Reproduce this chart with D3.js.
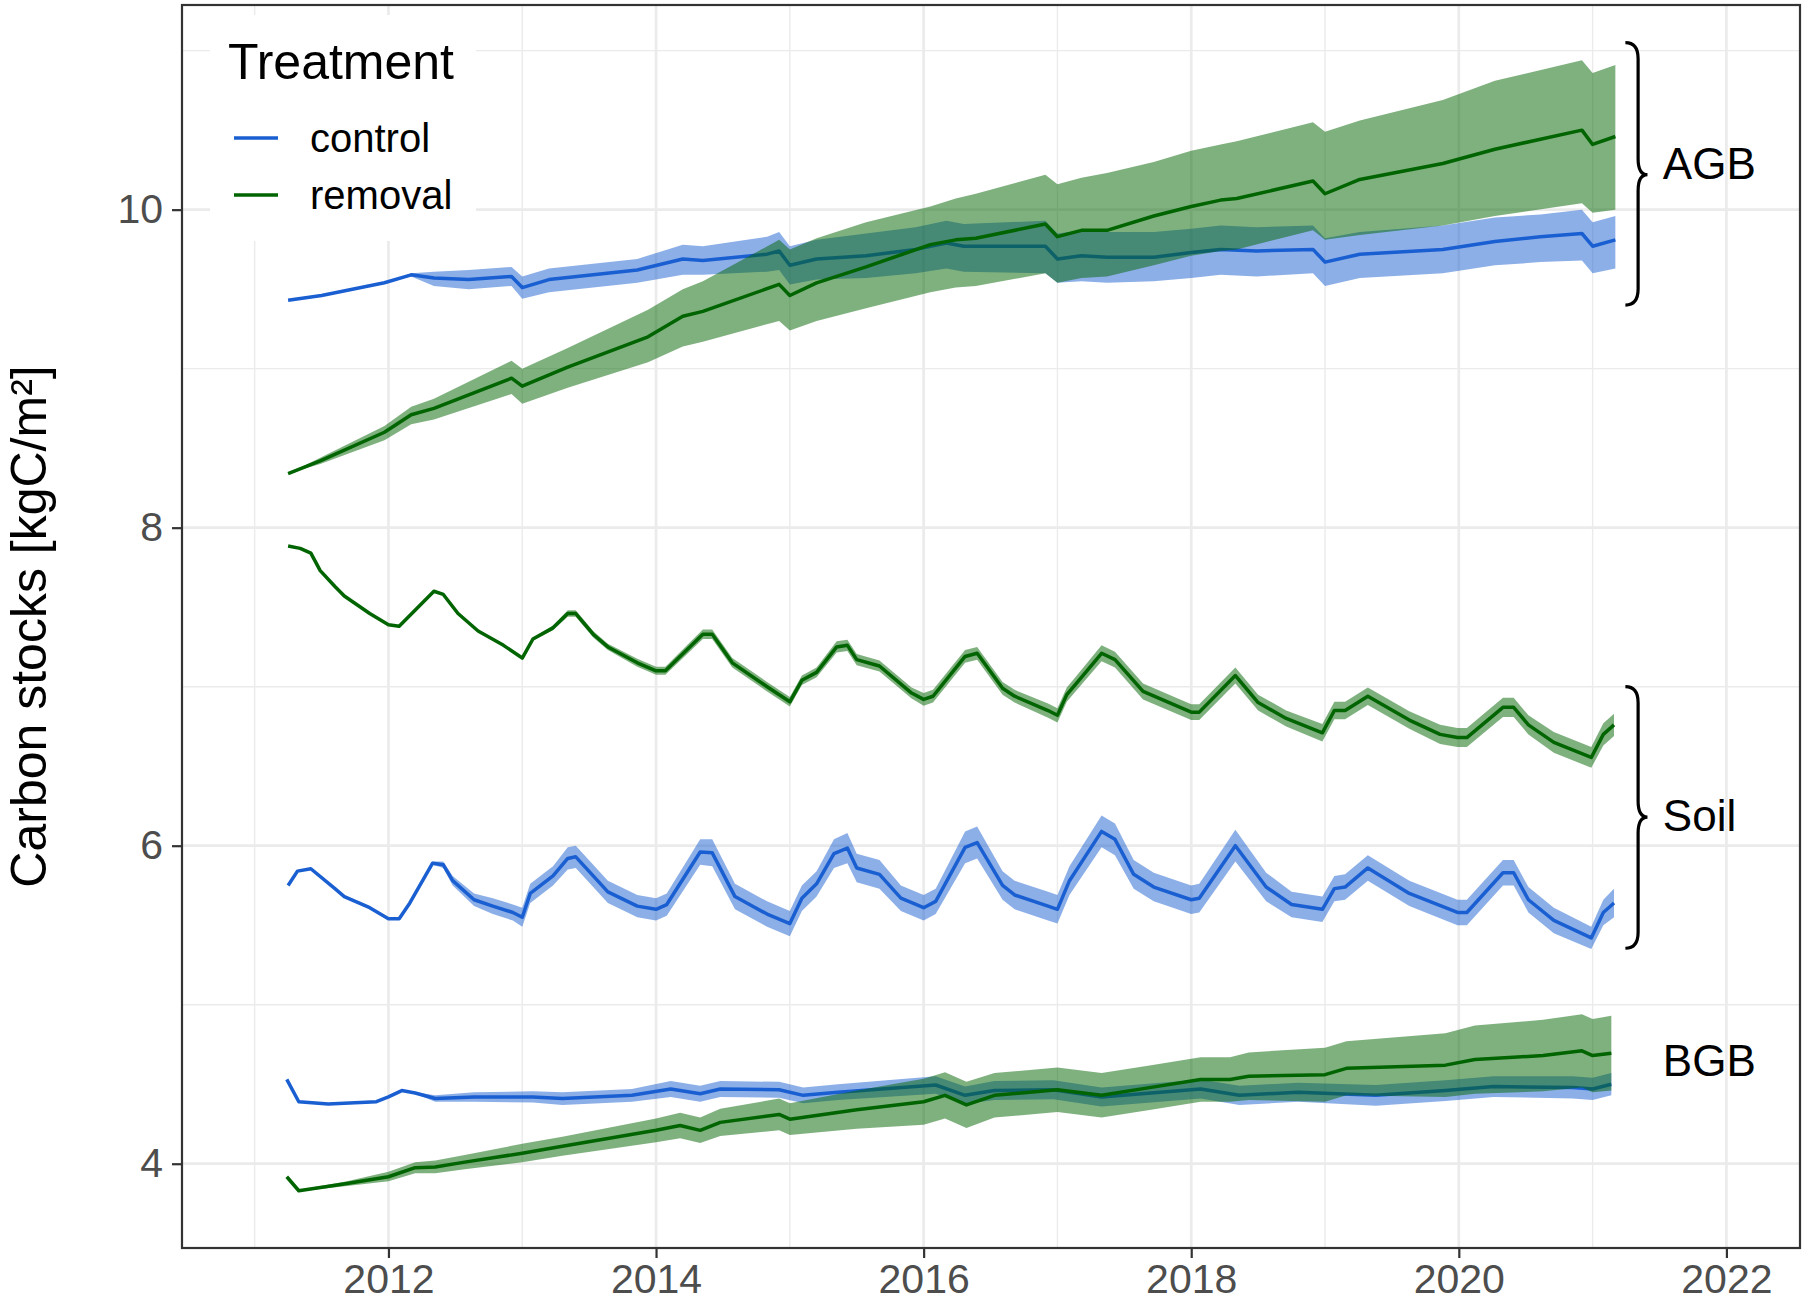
<!DOCTYPE html>
<html>
<head>
<meta charset="utf-8">
<script src="https://cdn.jsdelivr.net/npm/d3@7"></script>
<style>
  html, body { margin: 0; padding: 0; background: #fff; }
  svg { display: block; font-family: "Liberation Sans", Arial, Helvetica, sans-serif; }
</style>
</head>
<body>
<div id="chart"></div>
<script>
// values: [year, mean, lower, upper]
const agbControl = [
  [2011.25, 9.43, 9.43, 9.43], [2011.50, 9.46, 9.46, 9.46], [2011.97, 9.54, 9.54, 9.54],
  [2012.17, 9.59, 9.58, 9.60], [2012.34, 9.57, 9.52, 9.61], [2012.60, 9.56, 9.50, 9.62],
  [2012.92, 9.58, 9.52, 9.64], [2013.00, 9.51, 9.44, 9.58], [2013.20, 9.56, 9.48, 9.63],
  [2013.53, 9.59, 9.51, 9.66], [2013.86, 9.62, 9.54, 9.69], [2014.20, 9.69, 9.59, 9.78],
  [2014.35, 9.68, 9.59, 9.77], [2014.83, 9.72, 9.61, 9.83], [2014.92, 9.74, 9.62, 9.86],
  [2015.00, 9.65, 9.53, 9.77], [2015.20, 9.69, 9.56, 9.81], [2015.57, 9.71, 9.57, 9.85],
  [2015.94, 9.75, 9.60, 9.89], [2016.17, 9.79, 9.63, 9.93], [2016.30, 9.77, 9.61, 9.91],
  [2016.91, 9.77, 9.60, 9.93], [2017.00, 9.69, 9.54, 9.85], [2017.18, 9.71, 9.55, 9.87],
  [2017.37, 9.70, 9.54, 9.86], [2017.72, 9.70, 9.55, 9.86], [2018.00, 9.73, 9.57, 9.88],
  [2018.22, 9.75, 9.59, 9.90], [2018.49, 9.74, 9.58, 9.89], [2018.91, 9.75, 9.60, 9.90],
  [2019.00, 9.67, 9.52, 9.82], [2019.26, 9.72, 9.57, 9.86], [2019.88, 9.75, 9.60, 9.90],
  [2020.27, 9.80, 9.65, 9.95], [2020.61, 9.83, 9.67, 9.97], [2020.92, 9.85, 9.68, 10.00],
  [2021.00, 9.77, 9.60, 9.92], [2021.17, 9.81, 9.63, 9.96]
];

const agbRemoval = [
  [2011.25, 8.34, 8.34, 8.34], [2011.49, 8.42, 8.40, 8.44], [2011.97, 8.60, 8.55, 8.64],
  [2012.17, 8.71, 8.65, 8.76], [2012.34, 8.75, 8.68, 8.81], [2012.92, 8.94, 8.84, 9.05],
  [2013.00, 8.89, 8.78, 9.00], [2013.34, 9.01, 8.88, 9.13], [2013.94, 9.20, 9.04, 9.37],
  [2014.20, 9.33, 9.14, 9.50], [2014.35, 9.36, 9.17, 9.55], [2014.92, 9.53, 9.30, 9.81],
  [2015.00, 9.46, 9.24, 9.75], [2015.20, 9.54, 9.30, 9.82], [2015.57, 9.64, 9.38, 9.92],
  [2016.05, 9.78, 9.48, 10.02], [2016.24, 9.81, 9.51, 10.07], [2016.39, 9.82, 9.52, 10.10],
  [2016.91, 9.91, 9.60, 10.22], [2017.00, 9.83, 9.54, 10.16], [2017.18, 9.87, 9.57, 10.20],
  [2017.37, 9.87, 9.58, 10.23], [2017.72, 9.96, 9.65, 10.30], [2018.00, 10.02, 9.71, 10.37],
  [2018.22, 10.06, 9.74, 10.41], [2018.34, 10.07, 9.75, 10.43], [2018.91, 10.18, 9.87, 10.55],
  [2019.00, 10.10, 9.81, 10.49], [2019.26, 10.19, 9.84, 10.56], [2019.88, 10.29, 9.90, 10.69],
  [2020.27, 10.38, 9.96, 10.81], [2020.92, 10.50, 10.04, 10.94], [2021.00, 10.41, 9.98, 10.86],
  [2021.17, 10.46, 10.00, 10.91]
];

const soilControl = [
  [2011.25, 5.75, 5.75, 5.75], [2011.32, 5.84, 5.84, 5.84], [2011.42, 5.855, 5.855, 5.855],
  [2011.60, 5.73, 5.73, 5.73], [2011.67, 5.68, 5.68, 5.68], [2011.86, 5.61, 5.61, 5.61],
  [2012.00, 5.54, 5.54, 5.54], [2012.08, 5.54, 5.54, 5.54], [2012.16, 5.64, 5.64, 5.64],
  [2012.33, 5.89, 5.88, 5.90], [2012.41, 5.88, 5.86, 5.90], [2012.48, 5.78, 5.75, 5.81],
  [2012.64, 5.66, 5.62, 5.70], [2012.78, 5.62, 5.57, 5.67], [2012.93, 5.58, 5.53, 5.63],
  [2013.00, 5.55, 5.49, 5.61], [2013.06, 5.70, 5.64, 5.76], [2013.23, 5.81, 5.75, 5.87],
  [2013.34, 5.92, 5.85, 5.99], [2013.40, 5.93, 5.86, 6.00], [2013.64, 5.71, 5.64, 5.78],
  [2013.86, 5.62, 5.55, 5.69], [2014.00, 5.60, 5.53, 5.67], [2014.08, 5.63, 5.56, 5.70],
  [2014.33, 5.96, 5.88, 6.04], [2014.42, 5.955, 5.87, 6.04], [2014.59, 5.68, 5.60, 5.76],
  [2014.83, 5.57, 5.49, 5.65], [2015.00, 5.51, 5.43, 5.59], [2015.09, 5.67, 5.59, 5.75],
  [2015.20, 5.76, 5.68, 5.84], [2015.33, 5.95, 5.86, 6.04], [2015.43, 5.985, 5.89, 6.08],
  [2015.50, 5.86, 5.77, 5.95], [2015.67, 5.82, 5.73, 5.91], [2015.83, 5.67, 5.59, 5.75],
  [2016.00, 5.61, 5.53, 5.69], [2016.09, 5.65, 5.57, 5.73], [2016.31, 5.99, 5.89, 6.09],
  [2016.40, 6.02, 5.92, 6.12], [2016.59, 5.75, 5.66, 5.84], [2016.68, 5.69, 5.60, 5.78],
  [2016.93, 5.62, 5.53, 5.71], [2017.00, 5.60, 5.51, 5.69], [2017.09, 5.78, 5.69, 5.87],
  [2017.33, 6.09, 5.99, 6.19], [2017.43, 6.04, 5.94, 6.14], [2017.57, 5.82, 5.73, 5.91],
  [2017.72, 5.74, 5.65, 5.83], [2018.00, 5.66, 5.57, 5.75], [2018.06, 5.67, 5.58, 5.76],
  [2018.33, 6.00, 5.90, 6.10], [2018.56, 5.74, 5.65, 5.83], [2018.75, 5.63, 5.55, 5.71],
  [2018.98, 5.60, 5.52, 5.68], [2019.07, 5.73, 5.65, 5.81], [2019.15, 5.74, 5.66, 5.82],
  [2019.32, 5.86, 5.78, 5.94], [2019.63, 5.70, 5.62, 5.78], [2019.99, 5.58, 5.50, 5.66],
  [2020.06, 5.58, 5.50, 5.66], [2020.33, 5.83, 5.75, 5.91], [2020.41, 5.83, 5.75, 5.91],
  [2020.52, 5.66, 5.58, 5.74], [2020.71, 5.53, 5.45, 5.61], [2020.99, 5.42, 5.35, 5.49],
  [2021.08, 5.58, 5.50, 5.66], [2021.16, 5.64, 5.55, 5.73]
];

const soilRemoval = [
  [2011.25, 7.885, 7.885, 7.885], [2011.34, 7.87, 7.87, 7.87], [2011.42, 7.84, 7.84, 7.84],
  [2011.49, 7.73, 7.73, 7.73], [2011.60, 7.63, 7.63, 7.63], [2011.67, 7.57, 7.57, 7.57],
  [2011.86, 7.46, 7.46, 7.46], [2012.00, 7.39, 7.39, 7.39], [2012.08, 7.38, 7.38, 7.38],
  [2012.34, 7.60, 7.60, 7.60], [2012.41, 7.58, 7.58, 7.58], [2012.52, 7.46, 7.46, 7.46],
  [2012.67, 7.35, 7.35, 7.35], [2012.86, 7.26, 7.26, 7.26], [2013.00, 7.18, 7.175, 7.185],
  [2013.08, 7.30, 7.29, 7.31], [2013.23, 7.37, 7.355, 7.385], [2013.34, 7.46, 7.44, 7.48],
  [2013.40, 7.46, 7.44, 7.48], [2013.53, 7.33, 7.31, 7.35], [2013.64, 7.25, 7.23, 7.27],
  [2013.86, 7.15, 7.125, 7.175], [2014.00, 7.10, 7.075, 7.125], [2014.07, 7.10, 7.075, 7.125],
  [2014.35, 7.33, 7.30, 7.36], [2014.42, 7.33, 7.30, 7.36], [2014.57, 7.15, 7.12, 7.18],
  [2014.83, 7.00, 6.97, 7.03], [2015.00, 6.905, 6.875, 6.935], [2015.09, 7.04, 7.01, 7.07],
  [2015.20, 7.09, 7.06, 7.12], [2015.35, 7.25, 7.215, 7.285], [2015.43, 7.26, 7.225, 7.295],
  [2015.50, 7.17, 7.135, 7.205], [2015.67, 7.13, 7.095, 7.165], [2015.91, 6.96, 6.925, 6.995],
  [2016.00, 6.92, 6.88, 6.96], [2016.07, 6.94, 6.90, 6.98], [2016.31, 7.19, 7.15, 7.23],
  [2016.40, 7.21, 7.17, 7.25], [2016.59, 6.99, 6.95, 7.03], [2016.68, 6.94, 6.90, 6.98],
  [2016.93, 6.85, 6.805, 6.895], [2017.00, 6.82, 6.775, 6.865], [2017.07, 6.95, 6.905, 6.995],
  [2017.14, 7.02, 6.975, 7.065], [2017.33, 7.21, 7.16, 7.26], [2017.43, 7.17, 7.12, 7.22],
  [2017.64, 6.97, 6.92, 7.02], [2018.00, 6.84, 6.79, 6.89], [2018.06, 6.84, 6.79, 6.89],
  [2018.33, 7.07, 7.02, 7.12], [2018.50, 6.90, 6.85, 6.95], [2018.71, 6.80, 6.75, 6.85],
  [2018.98, 6.71, 6.655, 6.765], [2019.07, 6.85, 6.795, 6.905], [2019.15, 6.85, 6.795, 6.905],
  [2019.32, 6.94, 6.885, 6.995], [2019.63, 6.79, 6.735, 6.845], [2019.86, 6.70, 6.64, 6.76],
  [2019.99, 6.68, 6.62, 6.74], [2020.06, 6.68, 6.62, 6.74], [2020.33, 6.87, 6.81, 6.93],
  [2020.41, 6.87, 6.81, 6.93], [2020.52, 6.76, 6.70, 6.82], [2020.71, 6.65, 6.585, 6.715],
  [2020.99, 6.555, 6.49, 6.62], [2021.08, 6.70, 6.63, 6.77], [2021.16, 6.76, 6.69, 6.83]
];

const bgbControl = [
  [2011.24, 4.53, 4.53, 4.53], [2011.33, 4.39, 4.39, 4.39], [2011.55, 4.375, 4.375, 4.375],
  [2011.91, 4.39, 4.39, 4.39], [2012.00, 4.42, 4.42, 4.42], [2012.10, 4.46, 4.46, 4.46],
  [2012.20, 4.445, 4.44, 4.45], [2012.35, 4.41, 4.39, 4.43], [2012.64, 4.42, 4.39, 4.45],
  [2013.08, 4.42, 4.385, 4.455], [2013.30, 4.41, 4.37, 4.45], [2013.82, 4.43, 4.39, 4.47],
  [2014.11, 4.47, 4.42, 4.52], [2014.33, 4.44, 4.39, 4.49], [2014.48, 4.47, 4.42, 4.52],
  [2014.92, 4.465, 4.415, 4.515], [2015.10, 4.43, 4.38, 4.48], [2015.36, 4.45, 4.40, 4.50],
  [2016.09, 4.495, 4.44, 4.55], [2016.31, 4.43, 4.375, 4.485], [2016.53, 4.46, 4.40, 4.52],
  [2016.97, 4.465, 4.405, 4.525], [2017.33, 4.42, 4.36, 4.48], [2017.70, 4.445, 4.385, 4.505],
  [2018.07, 4.47, 4.41, 4.53], [2018.36, 4.43, 4.37, 4.49], [2018.80, 4.45, 4.39, 4.51],
  [2019.38, 4.43, 4.365, 4.495], [2019.90, 4.46, 4.395, 4.525], [2020.26, 4.485, 4.42, 4.55],
  [2020.85, 4.48, 4.41, 4.55], [2021.00, 4.47, 4.40, 4.54], [2021.14, 4.50, 4.43, 4.57]
];

const bgbRemoval = [
  [2011.24, 3.918, 3.918, 3.918], [2011.33, 3.83, 3.825, 3.835], [2011.69, 3.875, 3.86, 3.89],
  [2012.00, 3.918, 3.89, 3.95], [2012.20, 3.975, 3.94, 4.01], [2012.35, 3.98, 3.94, 4.02],
  [2012.57, 4.01, 3.965, 4.055], [2013.00, 4.066, 4.01, 4.125], [2013.30, 4.11, 4.05, 4.17],
  [2014.00, 4.21, 4.135, 4.285], [2014.18, 4.24, 4.16, 4.32], [2014.33, 4.21, 4.13, 4.29],
  [2014.48, 4.26, 4.175, 4.345], [2014.92, 4.31, 4.21, 4.41], [2015.00, 4.28, 4.18, 4.38],
  [2015.50, 4.34, 4.22, 4.46], [2016.00, 4.39, 4.245, 4.535], [2016.16, 4.43, 4.285, 4.575],
  [2016.32, 4.37, 4.225, 4.515], [2016.53, 4.43, 4.29, 4.57], [2017.00, 4.465, 4.325, 4.605],
  [2017.33, 4.43, 4.29, 4.57], [2017.70, 4.48, 4.34, 4.62], [2018.07, 4.53, 4.39, 4.67],
  [2018.29, 4.53, 4.39, 4.67], [2018.43, 4.55, 4.40, 4.70], [2019.00, 4.56, 4.39, 4.73],
  [2019.16, 4.60, 4.43, 4.77], [2019.90, 4.62, 4.42, 4.82], [2020.12, 4.655, 4.44, 4.87],
  [2020.63, 4.68, 4.455, 4.905], [2020.92, 4.71, 4.48, 4.94], [2021.00, 4.68, 4.45, 4.91],
  [2021.14, 4.695, 4.46, 4.93]
];

const treatments = ["control", "removal"];
const xTicks = [2012, 2014, 2016, 2018, 2020, 2022];
const xMinor = [2011, 2013, 2015, 2017, 2019, 2021];
const yTicks = [4, 6, 8, 10];
const yMinor = [5, 7, 9, 11];

// curly-brace annotations: [label, top, tip, bottom, label height] (kgC/m²), null = no brace
const pools = [
  ["AGB", 11.05, 10.22, 9.40, 10.29],
  ["Soil", 7.00, 6.18, 5.355, 6.19],
  ["BGB", null, null, null, 4.65]
];

const series = [
  { key: "control", pool: "AGB", data: agbControl },
  { key: "control", pool: "Soil", data: soilControl },
  { key: "control", pool: "BGB", data: bgbControl },
  { key: "removal", pool: "AGB", data: agbRemoval },
  { key: "removal", pool: "Soil", data: soilRemoval },
  { key: "removal", pool: "BGB", data: bgbRemoval }
];

const width = 1807, height = 1302;
const margin = { top: 5, right: 7, bottom: 54, left: 182 };
const innerW = width - margin.left - margin.right;
const innerH = height - margin.top - margin.bottom;

const x = d3.scaleLinear().domain([2010.457, 2022.55]).range([0, innerW]);
const y = d3.scaleLinear().domain([3.47, 11.287]).range([innerH, 0]);
const colour = d3.scaleOrdinal().domain(treatments).range(["#1a5fd1", "#006400"]);

const svg = d3.select("#chart").append("svg")
  .attr("width", width)
  .attr("height", height)
  .attr("viewBox", `0 0 ${width} ${height}`);

const g = svg.append("g").attr("transform", `translate(${margin.left},${margin.top})`);

// grid
const grid = g.append("g").attr("class", "grid");
grid.selectAll("line.xminor").data(xMinor).enter().append("line")
  .attr("x1", d => x(d)).attr("x2", d => x(d)).attr("y1", 0).attr("y2", innerH)
  .attr("stroke", "#ebebeb").attr("stroke-width", 1.4);
grid.selectAll("line.yminor").data(yMinor).enter().append("line")
  .attr("y1", d => y(d)).attr("y2", d => y(d)).attr("x1", 0).attr("x2", innerW)
  .attr("stroke", "#ebebeb").attr("stroke-width", 1.4);
grid.selectAll("line.xmajor").data(xTicks).enter().append("line")
  .attr("x1", d => x(d)).attr("x2", d => x(d)).attr("y1", 0).attr("y2", innerH)
  .attr("stroke", "#ebebeb").attr("stroke-width", 2.7);
grid.selectAll("line.ymajor").data(yTicks).enter().append("line")
  .attr("y1", d => y(d)).attr("y2", d => y(d)).attr("x1", 0).attr("x2", innerW)
  .attr("stroke", "#ebebeb").attr("stroke-width", 2.7);

const area = d3.area()
  .x(d => x(d[0]))
  .y0(d => y(d[2]))
  .y1(d => y(d[3]));

const line = d3.line()
  .x(d => x(d[0]))
  .y(d => y(d[1]));

// control first, removal drawn over it
treatments.forEach(t => {
  const layer = g.append("g").attr("class", "treatment " + t);
  const sel = series.filter(s => s.key === t);
  layer.selectAll("path.band").data(sel).enter().append("path")
    .attr("class", "band")
    .attr("d", d => area(d.data))
    .attr("fill", colour(t))
    .attr("fill-opacity", 0.5);
  layer.selectAll("path.mean").data(sel).enter().append("path")
    .attr("class", "mean")
    .attr("d", d => line(d.data))
    .attr("fill", "none")
    .attr("stroke", colour(t))
    .attr("stroke-width", 3.5)
    .attr("stroke-linejoin", "round");
});

// braces + pool labels
const braceX0 = x(2021.245), braceXs = x(2021.34), braceXt = x(2021.41), labelX = x(2021.525);
const ann = g.append("g").attr("class", "pools");
ann.selectAll("path").data(pools.filter(p => p[1] !== null)).enter().append("path")
  .attr("d", p => {
    const yt = y(p[1]), ym = y(p[2]), yb = y(p[3]), r = 16;
    return `M${braceX0},${yt} Q${braceXs},${yt} ${braceXs},${yt + r} L${braceXs},${ym - r} ` +
      `Q${braceXs},${ym} ${braceXt},${ym} Q${braceXs},${ym} ${braceXs},${ym + r} ` +
      `L${braceXs},${yb - r} Q${braceXs},${yb} ${braceX0},${yb}`;
  })
  .attr("fill", "none")
  .attr("stroke", "#000")
  .attr("stroke-width", 3.2);
ann.selectAll("text").data(pools).enter().append("text")
  .attr("x", labelX)
  .attr("y", p => y(p[4]))
  .attr("dy", "0.36em")
  .attr("font-size", 44)
  .attr("fill", "#000")
  .text(p => p[0]);

// panel border
g.append("rect")
  .attr("width", innerW).attr("height", innerH)
  .attr("fill", "none").attr("stroke", "#333333").attr("stroke-width", 2.2);

// axes
const xAxis = g.append("g")
  .attr("transform", `translate(0,${innerH})`)
  .call(d3.axisBottom(x).tickValues(xTicks).tickFormat(d3.format("d")).tickSize(10).tickPadding(6));
const yAxis = g.append("g")
  .call(d3.axisLeft(y).tickValues(yTicks).tickFormat(d3.format("d")).tickSize(10).tickPadding(9));
[xAxis, yAxis].forEach(a => {
  a.select(".domain").remove();
  a.selectAll(".tick line").attr("stroke", "#333333").attr("stroke-width", 2.2);
  a.selectAll(".tick text").attr("fill", "#4d4d4d").attr("font-size", 41)
    .attr("font-family", "'Liberation Sans', Arial, sans-serif");
});

// y title
svg.append("text")
  .attr("transform", `translate(29,${margin.top + innerH / 2}) rotate(-90)`)
  .attr("text-anchor", "middle")
  .attr("dominant-baseline", "central")
  .attr("font-size", 50)
  .attr("fill", "#000")
  .text("Carbon stocks [kgC/m²]");

// legend
const legend = svg.append("g").attr("transform", "translate(210,15)");
legend.append("rect").attr("width", 266).attr("height", 226).attr("fill", "#fff");
legend.append("text").attr("x", 18).attr("y", 64).attr("font-size", 50).attr("fill", "#000").text("Treatment");
const item = legend.selectAll("g.item").data(treatments).enter().append("g")
  .attr("class", "item")
  .attr("transform", (d, i) => `translate(0,${123 + i * 57})`);
item.append("line").attr("x1", 24).attr("x2", 68).attr("y1", 0).attr("y2", 0)
  .attr("stroke", d => colour(d)).attr("stroke-width", 3.5);
item.append("text").attr("x", 100).attr("y", 0).attr("dy", "0.36em")
  .attr("font-size", 40).attr("fill", "#000").text(d => d);
</script>
</body>
</html>
